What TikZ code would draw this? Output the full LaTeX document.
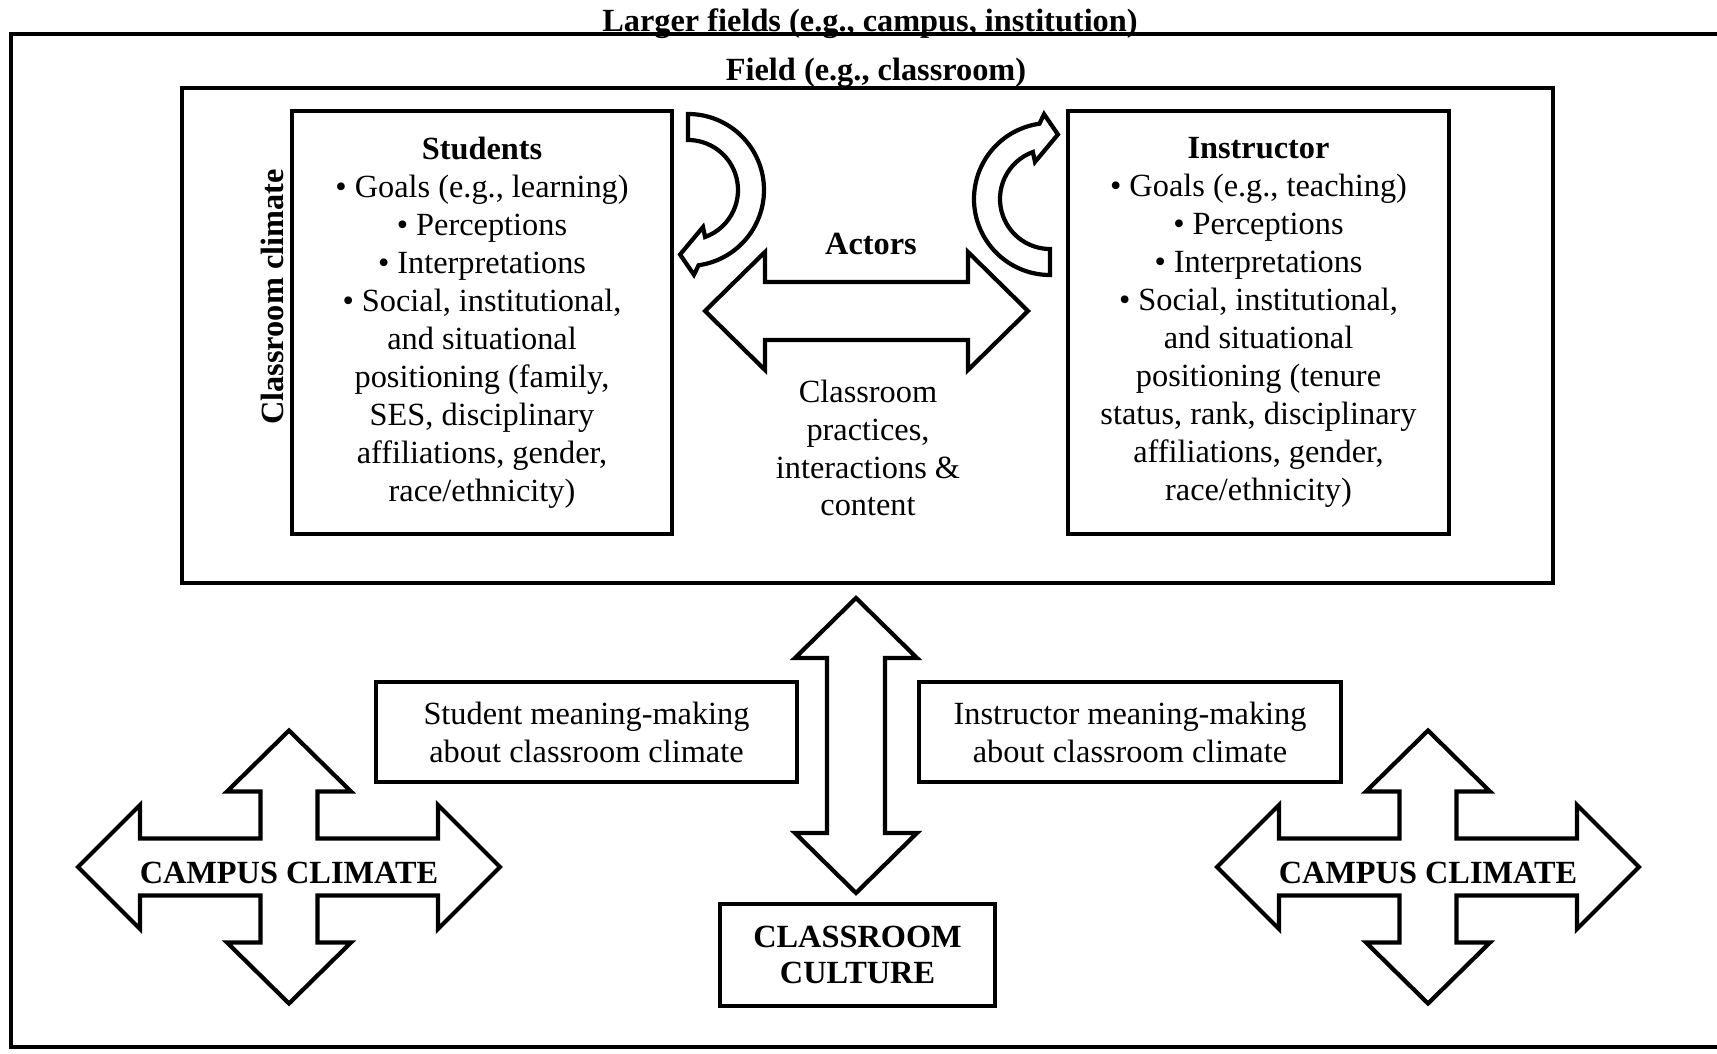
\documentclass[tikz,border=0pt]{standalone}
\usepackage{fontspec}
\setmainfont{Liberation Serif}

\begin{document}
\begin{tikzpicture}[font=\fontsize{9.2}{10.8}\selectfont, align=center]
\tikzstyle{box} = [draw=black, line width=1.2pt, rectangle, inner sep=0pt]
\tikzstyle{blk} = [draw=black, fill=white, line width=1.2pt, line join=miter]
\tikzstyle{t} = [inner sep=0pt]
\tikzset{
  circarrow/.pic={
    \draw[blk] (90:0.76) arc[start angle=90, end angle=-82, radius=0.76]
      -- (-86:0.85) -- (-97:0.65) -- (-68:0.40) -- (-70:0.50)
      arc[start angle=-70, end angle=90, radius=0.50] -- cycle;
  },
  crossarrow/.pic={
    \draw[blk] (2.11,0) -- (1.49,0.62) -- (1.49,0.285) -- (0.285,0.285)
      -- (0.285,0.755) -- (0.62,0.755) -- (0,1.365) -- (-0.62,0.755)
      -- (-0.285,0.755) -- (-0.285,0.285) -- (-1.49,0.285) -- (-1.49,0.62)
      -- (-2.11,0) -- (-1.49,-0.62) -- (-1.49,-0.285) -- (-0.285,-0.285)
      -- (-0.285,-0.755) -- (-0.62,-0.755) -- (0,-1.365) -- (0.62,-0.755)
      -- (0.285,-0.755) -- (0.285,-0.285) -- (1.49,-0.285) -- (1.49,-0.62)
      -- cycle;
  }
}

\useasboundingbox (0,0) rectangle (17.17,10.53);
\clip (0,0) rectangle (17.17,10.53);

% fields
\node[box, minimum width=17.6cm, minimum height=10.13cm, anchor=south west] (larger) at (0.09,0.04) {};
\node[t] (largerlbl) at (8.70,10.29) {\textbf{Larger fields (e.g., campus, institution)}};
\node[box, minimum width=13.71cm, minimum height=4.95cm] (field) at (8.675,7.175) {};
\node[t] (fieldlbl) at (8.76,9.80) {\textbf{Field (e.g., classroom)}};
\node[t, rotate=90] (climate) at (2.72,7.56) {\textbf{Classroom climate}};

% actors
\node[box, minimum width=3.80cm, minimum height=4.23cm] (stu) at (4.82,7.305) {
  \textbf{Students}\\
  \textbullet{} Goals (e.g., learning)\\
  \textbullet{} Perceptions\\
  \textbullet{} Interpretations\\
  \textbullet{} Social, institutional,\\
  and situational\\
  positioning (family,\\
  SES, disciplinary\\
  affiliations, gender,\\
  race/ethnicity)};
\node[box, minimum width=3.81cm, minimum height=4.23cm] (ins) at (12.585,7.305) {
  \textbf{Instructor}\\
  \textbullet{} Goals (e.g., teaching)\\
  \textbullet{} Perceptions\\
  \textbullet{} Interpretations\\
  \textbullet{} Social, institutional,\\
  and situational\\
  positioning (tenure\\
  status, rank, disciplinary\\
  affiliations, gender,\\
  race/ethnicity)};

\pic at (6.88,8.63) {circarrow};
\pic[rotate=180] at (10.50,8.54) {circarrow};

\draw[blk] (7.05,7.42) -- (7.65,8.01) -- (7.65,7.71) -- (9.68,7.71) -- (9.68,8.01)
  -- (10.28,7.42) -- (9.68,6.83) -- (9.68,7.13) -- (7.65,7.13) -- (7.65,6.83) -- cycle;
\node[t] (actors) at (8.71,8.09) {\textbf{Actors}};
\node[t] (practice) at (8.68,6.05) {Classroom\\practices,\\interactions \&\\content};

% meaning-making and culture
\node[box, minimum width=4.21cm, minimum height=1.0cm] (smean) at (5.865,3.21) {Student meaning-making\\about classroom climate};
\node[box, minimum width=4.22cm, minimum height=1.0cm] (imean) at (11.30,3.21) {Instructor meaning-making\\about classroom climate};

\draw[blk] (8.56,4.55) -- (9.17,3.95) -- (8.85,3.95) -- (8.85,2.20) -- (9.17,2.20)
  -- (8.56,1.60) -- (7.95,2.20) -- (8.27,2.20) -- (8.27,3.95) -- (7.95,3.95) -- cycle;
\node[box, minimum width=2.75cm, minimum height=1.02cm, font=\fontsize{9.2}{10.2}\selectfont] (culture) at (8.575,0.98) {\textbf{CLASSROOM}\\\textbf{CULTURE}};

% campus climate
\pic at (2.89,1.86) {crossarrow};
\node[t] (campusl) at (2.89,1.80) {\textbf{CAMPUS CLIMATE}};
\pic at (14.28,1.86) {crossarrow};
\node[t] (campusr) at (14.28,1.80) {\textbf{CAMPUS CLIMATE}};
\end{tikzpicture}
\end{document}
